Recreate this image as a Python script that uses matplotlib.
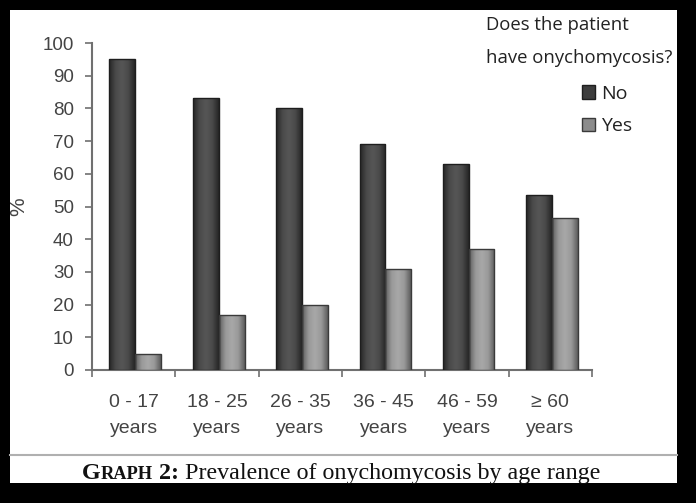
import matplotlib
matplotlib.use("Agg")
import matplotlib.pyplot as plt
from matplotlib.patches import Rectangle, Patch
from matplotlib.colors import LinearSegmentedColormap
import numpy as np

categories = ["0 - 17\nyears", "18 - 25\nyears", "26 - 35\nyears",
              "36 - 45\nyears", "46 - 59\nyears", "\u2265 60\nyears"]
no_values = [95.2, 83.1, 80.2, 69.1, 62.9, 53.6]
yes_values = [4.8, 16.9, 19.8, 31.0, 37.1, 46.4]
series_names = ["No", "Yes"]
legend_title = ["Does the patient", "have onychomycosis?"]
yticks = [0, 10, 20, 30, 40, 50, 60, 70, 80, 90, 100]

W, H = 696, 503
fig = plt.figure(figsize=(W / 100, H / 100), dpi=100, facecolor="black")

def fx(px):
    return px / W

def fy(py):
    return 1 - py / H

# white panel
fig.patches.append(Rectangle((fx(10), fy(483)), fx(677) - fx(10), fy(10) - fy(483),
                             transform=fig.transFigure, facecolor="white",
                             edgecolor="none", zorder=-5))

ax = fig.add_axes([fx(92), fy(370), fx(592) - fx(92), fy(43) - fy(370)])
ax.set_facecolor("none")
ax.set_zorder(5)

x = np.arange(len(categories))
bw = 0.31
off = 0.02
bars_no = ax.bar(x + off - bw / 2, no_values, width=bw, color="#3d3d3d",
                 edgecolor="#1e1e1e", linewidth=1.0, zorder=3)
bars_yes = ax.bar(x + off + bw / 2, yes_values, width=bw, color="#8c8c8c",
                  edgecolor="#3a3a3a", linewidth=1.0, zorder=3)

cmap_no = LinearSegmentedColormap.from_list("no", ["#262626", "#4a4a4a", "#565656", "#4a4a4a", "#262626"])
cmap_yes = LinearSegmentedColormap.from_list("yes", ["#5e5e5e", "#999999", "#a8a8a8", "#999999", "#5e5e5e"])
grad = np.linspace(0, 1, 64).reshape(1, -1)
for bars, cmap in [(bars_no, cmap_no), (bars_yes, cmap_yes)]:
    for p in bars:
        x0, y0 = p.get_x(), p.get_y()
        w, h = p.get_width(), p.get_height()
        im = ax.imshow(grad, cmap=cmap, extent=[x0, x0 + w, y0, y0 + h],
                       aspect="auto", zorder=3.5, interpolation="bilinear")
        im.set_clip_path(p)
        p.set_facecolor("none")
        p.set_zorder(4)

ax.set_xlim(-0.5, len(categories) - 0.5)
ax.set_ylim(0, 100)
ax.set_aspect("auto")

for s in ["top", "right"]:
    ax.spines[s].set_visible(False)
for s in ["left", "bottom"]:
    ax.spines[s].set_color("#707070")
    ax.spines[s].set_linewidth(1.5)

ax.set_yticks(yticks)
ax.set_yticklabels([str(v) for v in yticks], fontsize=13.5, color="#444444",
                   family="Liberation Sans")
ax.tick_params(axis="y", direction="out", length=5, width=1.2, color="#707070", pad=8)

ax.set_xticks(np.arange(len(categories) + 1) - 0.5)
ax.set_xticklabels([])
ax.tick_params(axis="x", which="major", direction="out", length=5, width=1.2,
               color="#707070")
ax.set_xticks(x, minor=True)
ax.set_xticklabels(categories, minor=True, fontsize=14, color="#444444",
                   family="Liberation Sans", linespacing=1.75)
ax.tick_params(axis="x", which="minor", length=0, pad=17)

ax.set_ylabel("%", fontsize=15, color="#444444", family="Liberation Sans")
ax.yaxis.set_label_coords((28 - 92) / 500, 0.5)

# legend title
fig.text(fx(486), fy(25), legend_title[0], fontsize=13.3, color="#222222",
         family="Open Sans", va="center", ha="left")
fig.text(fx(486), fy(58), legend_title[1], fontsize=13.3, color="#222222",
         family="Open Sans", va="center", ha="left")

handles = [Patch(facecolor="#3d3d3d", edgecolor="#1e1e1e"),
           Patch(facecolor="#8c8c8c", edgecolor="#3a3a3a")]
fig.legend(handles, series_names, loc="upper left",
           bbox_to_anchor=(fx(568), fy(71)), frameon=False,
           prop={"family": "Open Sans", "size": 14}, labelcolor="#222222",
           handlelength=0.7, handleheight=0.7, handletextpad=0.3,
           labelspacing=0.75, borderpad=0.2)

# separator line
fig.add_artist(plt.Line2D([fx(10), fx(677)], [fy(455), fy(455)],
                          transform=fig.transFigure, color="#b0b0b0", linewidth=1.5))

# caption with small caps
renderer = fig.canvas.get_renderer()
cap_y = fy(479)
xpos = fx(82)
parts = [("G", 17.3, "bold"), ("RAPH", 13.2, "bold"), (" 2:", 17.3, "bold"),
         (" Prevalence of onychomycosis by age range", 17.3, "normal")]
for txt, size, weight in parts:
    t = fig.text(xpos, cap_y, txt, fontsize=size, fontweight=weight,
                 family="Liberation Serif", color="#111111", va="baseline", ha="left")
    bb = t.get_window_extent(renderer=renderer)
    xpos += bb.width / W

fig.savefig("out.png", dpi=100, facecolor="black")
